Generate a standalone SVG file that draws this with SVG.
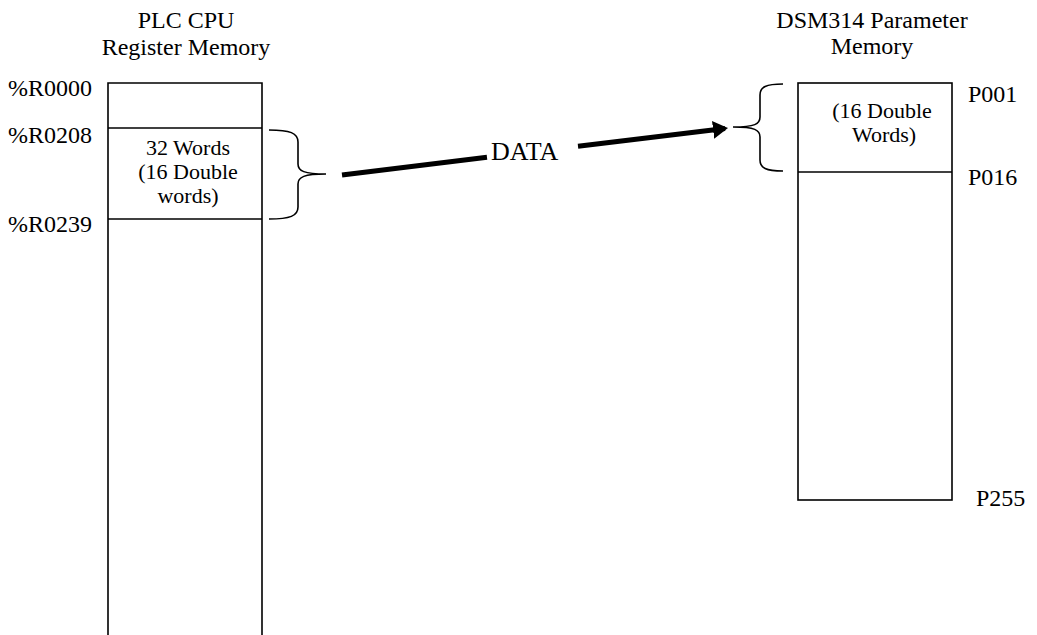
<svg xmlns="http://www.w3.org/2000/svg" width="1037" height="635" viewBox="0 0 1037 635">
<style>
text{font-family:"Liberation Serif","Times New Roman",serif;font-size:24px;fill:#000}
.c{text-anchor:middle}
.in{font-size:22px}
.box{fill:none;stroke:#000;stroke-width:1.6}
.brace{fill:none;stroke:#000;stroke-width:1.6}
.flow{stroke:#000;stroke-width:5;fill:none}
</style>
<defs>
<marker id="ah" markerWidth="4" markerHeight="4" refX="2.4" refY="2" orient="auto" markerUnits="strokeWidth">
<path d="M0,0.2 L3,2 L0,3.8 Z" fill="#000"/>
</marker>
</defs>
<rect width="1037" height="635" fill="#fff"/>
<g id="plc-memory">
<text class="c" x="186" y="28">PLC CPU</text>
<text class="c" x="186" y="55">Register Memory</text>
<path class="box" d="M108,640 V83 H262 V640"/>
<line class="box" x1="108" y1="128" x2="262" y2="128"/>
<line class="box" x1="108" y1="219" x2="262" y2="219"/>
<text x="8" y="96">%R0000</text>
<text x="8" y="143">%R0208</text>
<text x="8" y="232">%R0239</text>
<text class="c in" x="188" y="155">32 Words</text>
<text class="c in" x="188" y="179">(16 Double</text>
<text class="c in" x="188" y="203">words)</text>
<path class="brace" d="M269,130 C290,130 298,133 298,142 L298,164 C298,171 304,174 326,174 C304,174 298,177 298,184 L298,207 C298,216 290,219 269,219"/>
</g>
<g id="dsm-memory">
<text class="c" x="872" y="28">DSM314 Parameter</text>
<text class="c" x="872" y="54">Memory</text>
<rect class="box" x="798" y="83" width="154" height="417"/>
<line class="box" x1="798" y1="172" x2="952" y2="172"/>
<text x="968" y="102">P001</text>
<text x="968" y="185">P016</text>
<text x="976" y="506">P255</text>
<text class="c in" x="882" y="118">(16 Double</text>
<text class="c in" x="884" y="142">Words)</text>
<path class="brace" d="M783,84 C766,84 760,87 760,95 L760,117 C760,124 755,127 733,127 C755,127 760,130 760,137 L760,160 C760,168 766,171 783,171"/>
</g>
<g id="connectors">
<line class="flow" x1="342" y1="175" x2="487" y2="157.3"/>
<line class="flow" x1="578" y1="146.2" x2="725" y2="128.4" marker-end="url(#ah)"/>
<text x="491" y="160" style="font-size:26px">DATA</text>
</g>
</svg>
